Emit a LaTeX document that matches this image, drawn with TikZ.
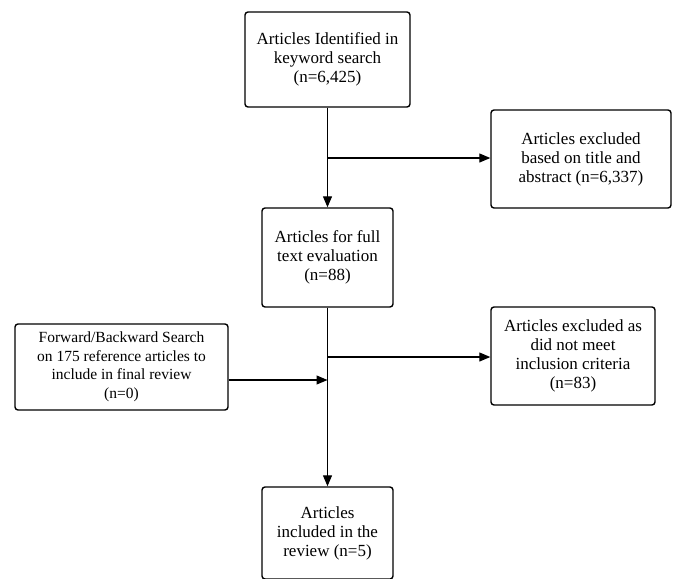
\documentclass[tikz,border=0pt]{standalone}
\usepackage{fontspec}
\setmainfont{Liberation Serif}
\usetikzlibrary{arrows.meta}
\begin{document}
\begin{tikzpicture}[x=1pt,y=-1pt,
  box/.style={draw, line width=1.4pt, rounded corners=3pt, align=center, font=\fontsize{17}{19}\selectfont, inner sep=0pt},
  conn/.style={line width=1.1pt, -{Triangle[length=11pt,width=9pt]}},
  line/.style={line width=1.1pt}]
\useasboundingbox (0,0) rectangle (673,579);
\node[box, minimum width=165pt, minimum height=95pt] (b1) at (327.5,59.5) {Articles Identified in\\keyword search\\(n=6,425)};
\node[box, minimum width=180pt, minimum height=98pt] (b2) at (581,159) {Articles excluded\\based on title and\\abstract (n=6,337)};
\node[box, minimum width=131pt, minimum height=99pt] (b3) at (327.5,257.5) {Articles for full\\text evaluation\\(n=88)};
\node[box, minimum width=213pt, minimum height=86pt, font=\fontsize{15.5}{18.5}\selectfont] (b4) at (121.5,367) {Forward/Backward Search\\on 175 reference articles to\\include in final review\\(n=0)};
\node[box, minimum width=164pt, minimum height=98pt] (b5) at (573,356) {Articles excluded as\\did not meet\\inclusion criteria\\(n=83)};
\node[box, minimum width=131pt, minimum height=92pt] (b6) at (327.5,533) {Articles\\included in the\\review (n=5)};
\coordinate (j1) at (327.5,158);
\coordinate (j2) at (327.5,357);
\coordinate (j3) at (327.5,380);
\draw[conn] (b1.south) -- (b3.north);
\draw[conn] (j1) -- (b2.west |- j1);
\draw[conn] (b3.south) -- (b6.north);
\draw[conn] (j2) -- (b5.west |- j2);
\draw[conn] (b4.east |- j3) -- (j3);
\end{tikzpicture}
\end{document}
